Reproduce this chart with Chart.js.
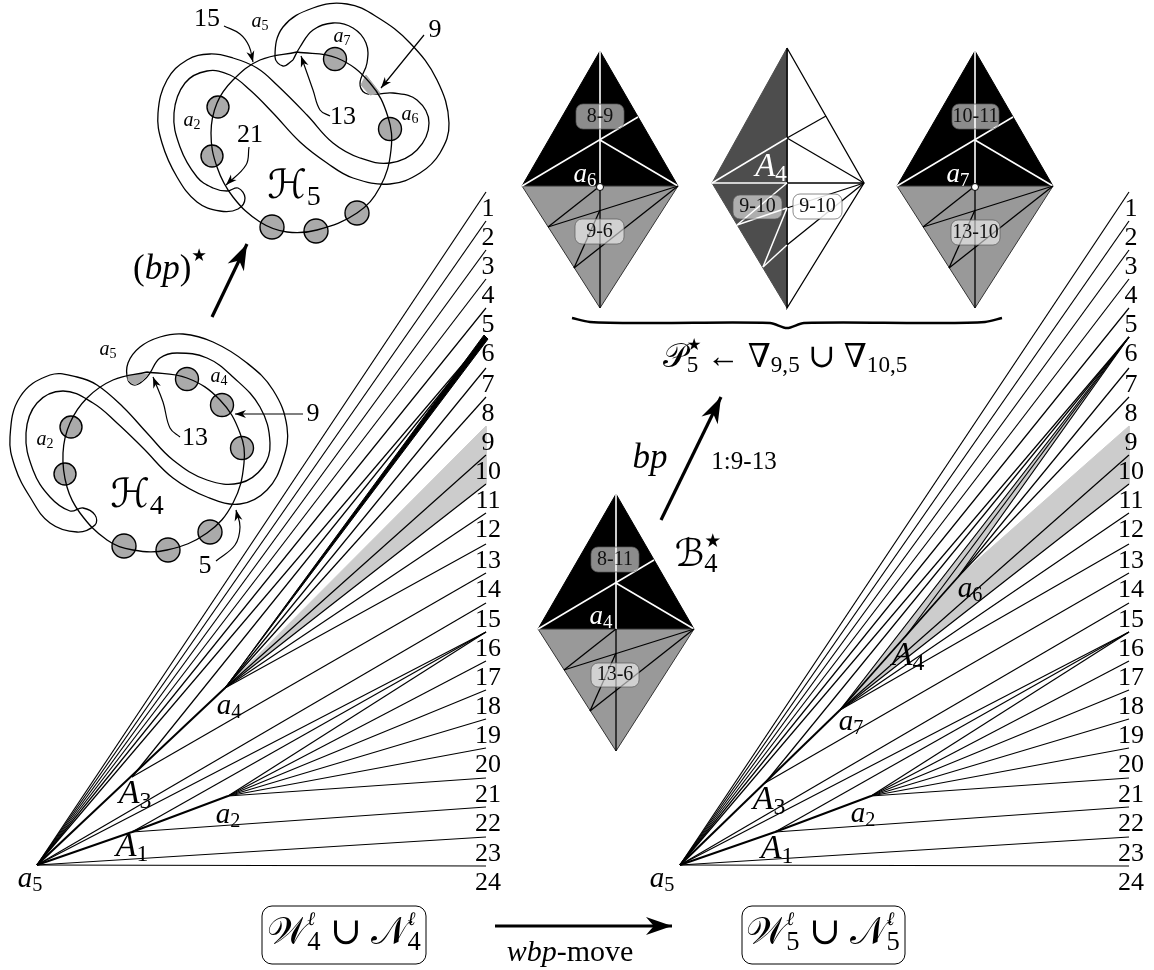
<!DOCTYPE html>
<html>
<head>
<meta charset="utf-8">
<style>
    html, body { margin: 0; padding: 0; background: #fff; }
    #wrap { width: 1154px; height: 970px; }
</style>
<script src="https://cdn.jsdelivr.net/npm/chart.js@4/dist/chart.umd.min.js"></script>
</head>
<body>
<div id="wrap"><canvas id="figure" width="1154" height="970"></canvas></div>
<script>
// Fan end heights and their tick labels
const fanLabels = ['1','2','3','4','5','6','7','8','9','10','11','12','13','14','15','16','17','18','19','20','21','22','23','24'];
const fanEndY = [192,221,250,279,308,337,368,397,426,455,484,513,544,573,603,632,661,690,719,748,778,807,837,866];

// Left fan
const leftEndX = 486;
const leftA5 = [37, 865], leftA3 = [132, 777], leftA1 = [132, 832];
const leftA4 = [225, 688], leftA2 = [228, 796];
const leftFromA5 = [1,2,3,4,5,6,15,16,23,24];
const leftFromA3 = [6,14];
const leftFromA4 = [7,8,10,11,12,13];
const leftFromA1 = [16,22];
const leftFromA2 = [16,17,18,19,20,21];
const leftThickTip = [[488,339],[484,335]];

// Right fan
const rightEndX = 1129;
const rightA5 = [680, 865], rightA3 = [765, 783], rightA1 = [775, 832];
const rightA7 = [840, 710], rightA4 = [905, 637], rightA6 = [958, 577], rightA2 = [871, 796];
const rightFromA5 = [1,2,3,4,5,6,15,16,23,24];
const rightFromA3 = [6,14];
const rightFromA7 = [6,10,11,12,13];
const rightFromA4 = [6];
const rightFromA6 = [6,7,8];
const rightFromA1 = [16,22];
const rightFromA2 = [16,17,18,19,20,21];

// Diamonds, offsets from the centre point
const diamondCenters = [[600, 186], [975, 186], [616, 629]];
const diamondTop = [0, -135], diamondBottom = [0, 122], diamondLeft = [-78, 0], diamondRight = [78, 0];
const diamondEdge = [38, -69], diamondUpper = [0, -46];
const diamondLowA = [-52, 41], diamondLowB = [-26, 82], diamondLowC = [0, 24];
const dotPoints = [[600, 187], [975, 187]];

// Middle diamond
const midTop = [787, 48], midBottom = [787, 308], midLeft = [712, 183], midRight = [864, 183];
const midEdge = [826, 116], midUpper = [787, 138], midCentre = [787, 183];
const midLowA = [737, 225], midLowB = [763, 267], midLowC = [787, 208];

// Chips on the diamonds: label, left, top, right, bottom
const chipLabels = ['8-9','9-6','9-10','9-10','10-11','13-10','8-11','13-6'];
const chipBoxes = [[576,104,624,129],[575,219,624,244],[733,195,782,219],[793,194,842,219],
                   [952,104,999,129],[951,220,1000,245],[591,547,639,572],[591,663,639,687]];

// Curves of H5
const h5Loop = [[293,60],[283,66],[275,57],[283,27],[313,8],[347,4],[377,17],[410,43],[437,80],[449,123],[440,153],[420,173],[390,184],[353,178],[327,163],[300,142],[273,113],[250,90],[230,75],[207,71],[185,83],[174,113],[180,147],[197,177],[213,188],[227,191],[238,188],[245,198],[238,209],[220,211],[197,202],[177,177],[162,143],[158,113],[167,80],[187,60],[210,54],[233,58],[257,68],[277,85],[307,115],[333,143],[360,158],[390,163],[417,150],[429,123],[417,100],[393,93],[377,94],[365,93],[360,83],[367,63],[366,43],[353,28],[333,23],[313,30],[300,47],[293,60]];
const h5Circle = [[297,52],[337,58],[370,83],[388,117],[391,150],[380,187],[357,213],[317,230],[287,232],[260,222],[233,197],[217,167],[211,133],[217,103],[233,80],[260,60],[297,52]];
const h5Ovals = [[218,107,11],[212,156,11],[335,59,11.5],[390,129,11.5],[357,213,12],[316,231,12],[272,227,12]];
const h5Crescent = [[366,75],[380,93],[370,95],[361,85],[366,75]];

// Curves of H4
const h4Loop = [[150,373],[145,379],[135,385],[128,380],[128,363],[140,347],[160,337],[183,334],[213,342],[247,363],[273,390],[287,427],[283,460],[267,490],[240,504],[207,497],[173,478],[143,448],[117,423],[93,403],[63,391],[37,403],[26,433],[33,470],[50,497],[70,511],[83,508],[95,515],[95,525],[77,532],[50,523],[30,497],[15,467],[10,437],[20,397],[50,375],[77,377],[97,385],[123,407],[147,433],[173,460],[207,480],[240,483],[263,467],[270,443],[260,407],[233,377],[207,358],[177,353],[160,358],[150,373]];
const h4Circle = [[147,372],[187,378],[220,400],[240,433],[244,463],[233,503],[207,533],[167,550],[133,550],[107,540],[80,513],[67,487],[63,453],[70,423],[87,398],[113,380],[147,372]];
const h4Ovals = [[71,427,11],[65,474,11],[187,379,11.5],[222,405,11.5],[242,448,11.5],[210,532,12],[168,550,12],[124,546,12]];
const h4Crescent = [[128,375],[148,374],[143,380],[135,385],[128,380],[128,375]];

// Thin arrows
const arrow15 = [[224,26],[240,34],[249,46],[253,62]];
const arrow21 = [[249,147],[246,165],[226,185]];
const arrow13a = [[330,116],[320,110],[313,90],[301,56]];
const arrow9a = [[424,35],[381,88]];
const arrow9b = [[303,414],[235,414]];
const arrow13b = [[180,437],[170,428],[163,402],[153,377]];
const arrow5 = [[216,561],[235,545],[240,527],[236,510]];

// Thick arrows
const arrowBpStar = [[212,317],[247,244]];
const arrowBp = [[661,520],[721,397]];
const arrowMove = [[495,926],[672,926]];

// Brace under the diamonds
const bracePoints = [[572,318],[590,322],[650,323],[770,323],[787,328],[804,323],[930,323],[985,322],[1002,318]];

// Boxes round the two formulas: left, top, right, bottom
const formulaBoxes = [[262,906,426,964],[742,906,905,964]];

// Text: parts are [text, kind], kinds r roman, i italic, s script, sub, sup, star
const textItems = [
    { p: [['15','r']], x: 207, y: 19, size: 26 },
    { p: [['a','i'],['5','sub']], x: 260, y: 22, size: 20 },
    { p: [['a','i'],['7','sub']], x: 342, y: 37, size: 20 },
    { p: [['a','i'],['2','sub']], x: 192, y: 121, size: 20 },
    { p: [['a','i'],['6','sub']], x: 410, y: 115, size: 20 },
    { p: [['21','r']], x: 250, y: 135, size: 26 },
    { p: [['13','r']], x: 343, y: 117, size: 26 },
    { p: [['9','r']], x: 435, y: 30, size: 26 },
    { p: [['\u210B','s'],['5','sub']], x: 294, y: 188, size: 40 },
    { p: [['(','r'],['bp','i'],[')','r'],['\u2605','star']], x: 170, y: 270, size: 35 },
    { p: [['a','i'],['5','sub']], x: 108, y: 350, size: 20 },
    { p: [['a','i'],['4','sub']], x: 219, y: 377, size: 20 },
    { p: [['a','i'],['2','sub']], x: 45, y: 440, size: 20 },
    { p: [['9','r']], x: 313, y: 414, size: 26 },
    { p: [['13','r']], x: 195, y: 438, size: 26 },
    { p: [['5','r']], x: 205, y: 566, size: 26 },
    { p: [['\u210B','s'],['4','sub']], x: 137, y: 497, size: 40 },
    { p: [['a','i'],['6','sub']], x: 585, y: 175, size: 27, color: '#fff' },
    { p: [['a','i'],['7','sub']], x: 958, y: 175, size: 27, color: '#fff' },
    { p: [['A','i'],['4','sub']], x: 771, y: 167, size: 33, color: '#fff' },
    { p: [['a','i'],['4','sub']], x: 601, y: 617, size: 27, color: '#fff' },
    { p: [['\uD835\uDCAB','s'],['\u2605','star'],['5','subx'],[' \u2190 ','r'],['\u2207','r'],['9,5','sub'],[' \u222A ','r'],['\u2207','r'],['10,5','sub']], x: 785, y: 358, size: 33 },
    { p: [['bp','i']], x: 650, y: 459, size: 35 },
    { p: [['1:9-13','r']], x: 744, y: 462, size: 25 },
    { p: [['\u212C','s'],['\u2605','star'],['4','subx']], x: 696, y: 556, size: 38 },
    { p: [['a','i'],['5','sub']], x: 30, y: 879, size: 29 },
    { p: [['a','i'],['4','sub']], x: 229, y: 706, size: 29 },
    { p: [['A','i'],['3','sub']], x: 135, y: 794, size: 34 },
    { p: [['a','i'],['2','sub']], x: 228, y: 815, size: 29 },
    { p: [['A','i'],['1','sub']], x: 132, y: 847, size: 34 },
    { p: [['a','i'],['5','sub']], x: 662, y: 879, size: 29 },
    { p: [['a','i'],['7','sub']], x: 851, y: 722, size: 29 },
    { p: [['A','i'],['3','sub']], x: 769, y: 800, size: 34 },
    { p: [['a','i'],['2','sub']], x: 863, y: 814, size: 29 },
    { p: [['A','i'],['1','sub']], x: 777, y: 849, size: 34 },
    { p: [['A','i'],['4','sub']], x: 908, y: 656, size: 34 },
    { p: [['a','i'],['6','sub']], x: 970, y: 589, size: 29 },
    { p: [['\uD835\uDCB2','s'],['\u2113','supi'],['4','subx'],[' \u222A ','r'],['\uD835\uDCA9','s'],['\u2113','supi'],['4','subx']], x: 344, y: 934, size: 38 },
    { p: [['\uD835\uDCB2','s'],['\u2113','supi'],['5','subx'],[' \u222A ','r'],['\uD835\uDCA9','s'],['\u2113','supi'],['5','subx']], x: 823, y: 934, size: 38 },
    { p: [['wbp','i'],['-move','r']], x: 570, y: 953, size: 30 }
];

const xy = ([x, y]) => ({ x, y });
const datasets = [];

// Add one drawn path in painter's order
function addPath(points, style) {
    datasets.push({
        data: points.map(xy),
        borderColor: '#000',
        borderWidth: 1,
        pointRadius: 0,
        tension: 0,
        fill: false,
        ...style
    });
}

function addShape(points, color, lineColor) {
    addPath(points, { fill: 'shape', backgroundColor: color, borderColor: lineColor || color });
}

function addRays(from, ends, endX) {
    ends.forEach(n => addPath([from, [endX, fanEndY[n - 1]]], { borderWidth: 1.2 }));
}

function offset(center, d) {
    return [center[0] + d[0], center[1] + d[1]];
}

// Black and grey diamond
function addDiamond(c) {
    const at = d => offset(c, d);
    addShape([at(diamondLeft), at(diamondTop), at(diamondRight), at(diamondLeft)], '#000');
    addShape([at(diamondLeft), at(diamondBottom), at(diamondRight), at(diamondLeft)], '#999', '#333');
    const white = { borderColor: '#fff', borderWidth: 1.6 };
    addPath([at(diamondTop), c], white);
    addPath([at(diamondLeft), at(diamondEdge)], white);
    addPath([at(diamondUpper), at(diamondRight)], white);
    const black = { borderWidth: 1.3 };
    addPath([c, at(diamondBottom)], black);
    addPath([c, at(diamondLowA)], black);
    addPath([at(diamondLowA), at(diamondRight)], black);
    addPath([at(diamondRight), at(diamondLowB)], black);
    addPath([at(diamondLowB), at(diamondLowC)], black);
}

function addMiddleDiamond() {
    addShape([midTop, midBottom, midLeft, midTop], '#4d4d4d');
    addPath([midTop, midRight, midBottom, midTop], { borderWidth: 1.3 });
    const white = { borderColor: '#fff', borderWidth: 1.5 };
    const black = { borderWidth: 1.3 };
    addPath([midEdge, midUpper], black);
    addPath([midUpper, midRight], black);
    addPath([midCentre, midRight], black);
    addPath([midUpper, midLeft], white);
    addPath([midCentre, midLeft], white);
    addPath([midCentre, midLowA], white);
    addPath([midLowA, midLowC], white);
    addPath([midLowC, midRight], black);
    addPath([midLowB, midLowC], white);
    addPath([midLowB, [787, 245]], white);
    addPath([[787, 245], midRight], black);
}

function addBlob(loop, circle, ovals, crescent) {
    addPath(loop, { tension: 0.4, borderWidth: 1.3 });
    addShape(crescent, '#aaa');
    datasets.push({
        data: ovals.map(xy),
        showLine: false,
        pointRadius: ovals.map(o => o[2]),
        pointBackgroundColor: '#aaa',
        pointBorderColor: '#000',
        pointBorderWidth: 1.4
    });
    addPath(circle, { tension: 0.4, borderWidth: 1.3 });
}

function buildDatasets() {
    // Grey bands first so the rays stay on top
    addShape([leftA4, [leftEndX, fanEndY[8]], [leftEndX, fanEndY[10]], leftA4], '#ccc');
    addShape([rightA7, rightA6, [rightEndX, fanEndY[8]], [rightEndX, fanEndY[10]], rightA7], '#ccc');
    addShape([rightA7, [rightEndX, fanEndY[5]], rightA6, rightA7], '#ccc');

    addRays(leftA5, leftFromA5, leftEndX);
    addRays(leftA3, leftFromA3, leftEndX);
    addRays(leftA4, leftFromA4, leftEndX);
    addRays(leftA1, leftFromA1, leftEndX);
    addRays(leftA2, leftFromA2, leftEndX);
    addPath([leftA5, leftA4], { borderWidth: 2 });
    addShape([leftA4, leftThickTip[0], leftThickTip[1], leftA4], '#000');
    addPath([leftA5, leftA1, leftA2], { borderWidth: 2 });

    addRays(rightA5, rightFromA5, rightEndX);
    addRays(rightA3, rightFromA3, rightEndX);
    addRays(rightA7, rightFromA7, rightEndX);
    addRays(rightA4, rightFromA4, rightEndX);
    addRays(rightA6, rightFromA6, rightEndX);
    addRays(rightA1, rightFromA1, rightEndX);
    addRays(rightA2, rightFromA2, rightEndX);
    addPath([rightA5, rightA7], { borderWidth: 2 });
    addPath([rightA7, rightA6], { borderWidth: 1.8 });
    addPath([rightA5, rightA1, rightA2], { borderWidth: 2 });

    diamondCenters.forEach(addDiamond);
    addMiddleDiamond();

    datasets.push({
        data: dotPoints.map(xy),
        showLine: false,
        pointRadius: 3.5,
        pointBackgroundColor: '#fff',
        pointBorderColor: '#000',
        pointBorderWidth: 1
    });

    addBlob(h5Loop, h5Circle, h5Ovals, h5Crescent);
    addBlob(h4Loop, h4Circle, h4Ovals, h4Crescent);

    [arrow15, arrow21, arrow13a, arrow9a, arrow9b, arrow13b, arrow5].forEach(a => {
        addPath(a, { tension: 0.4, borderWidth: 1.2 });
    });
    [arrowBpStar, arrowBp, arrowMove].forEach(a => addPath(a, { borderWidth: 3.2 }));
    addPath(bracePoints, { tension: 0.3, borderWidth: 2.4 });

    // First dataset has to paint first
    datasets.forEach((d, i) => { d.order = datasets.length - i; });
}

// Stealth arrow head at the end of a path
function drawHead(chart, path, length, width) {
    const { x: sx, y: sy } = chart.scales;
    const ctx = chart.ctx;
    const a = path[path.length - 2], b = path[path.length - 1];
    const tx = sx.getPixelForValue(b[0]), ty = sy.getPixelForValue(b[1]);
    const ang = Math.atan2(ty - sy.getPixelForValue(a[1]), tx - sx.getPixelForValue(a[0]));
    ctx.save();
    ctx.translate(tx, ty);
    ctx.rotate(ang);
    ctx.beginPath();
    ctx.moveTo(0, 0);
    ctx.lineTo(-length, -width);
    ctx.lineTo(-length * 0.7, 0);
    ctx.lineTo(-length, width);
    ctx.closePath();
    ctx.fillStyle = '#000';
    ctx.fill();
    ctx.restore();
}

function fontFor(kind, size) {
    const serif = '"Liberation Serif", "DejaVu Serif", "DejaVu Sans", serif';
    if (kind === 'i' || kind === 'supi') return `italic ${size}px ${serif}`;
    if (kind === 's') return `${size}px "DejaVu Serif", "DejaVu Sans", serif`;
    return `${size}px ${serif}`;
}

// Lay out one label from its parts and centre it on x, y
function drawText(chart, item) {
    const ctx = chart.ctx;
    const base = item.size;
    const stacked = item.p.some(q => q[1] === 'subx');
    const runs = item.p.map(([text, kind]) => {
        let size = base, dy = 0;
        if (kind === 'sub' || kind === 'subx') { size = base * 0.7; dy = base * 0.24; }
        if (kind === 'supi' || kind === 'star') { size = base * 0.5; dy = -base * 0.38; }
        ctx.font = fontFor(kind, size);
        const advance = !(stacked && (kind === 'star' || kind === 'supi'));
        return { text, kind, size, dy, advance, w: ctx.measureText(text).width };
    });
    const total = runs.reduce((sum, r) => sum + (r.advance ? r.w : 0), 0);
    let x = chart.scales.x.getPixelForValue(item.x) - total / 2;
    const y = chart.scales.y.getPixelForValue(item.y);
    ctx.fillStyle = item.color || '#000';
    ctx.textBaseline = 'middle';
    ctx.textAlign = 'left';
    runs.forEach(r => {
        ctx.font = fontFor(r.kind, r.size);
        ctx.fillText(r.text, x, y + r.dy);
        if (r.advance) x += r.w;
    });
}

const annotations = {
    id: 'annotations',
    afterDatasetsDraw(chart) {
        const ctx = chart.ctx;
        const { x: sx, y: sy } = chart.scales;
        const px = v => sx.getPixelForValue(v), py = v => sy.getPixelForValue(v);

        // Arrow heads
        [arrow15, arrow21, arrow13a, arrow9a, arrow9b, arrow13b, arrow5].forEach(a => drawHead(chart, a, 11, 4));
        [arrowBpStar, arrowBp, arrowMove].forEach(a => drawHead(chart, a, 26, 9));

        // Chips on the diamonds
        chipBoxes.forEach((b, i) => {
            const light = i === 3;
            ctx.beginPath();
            ctx.roundRect(px(b[0]), py(b[1]), px(b[2]) - px(b[0]), py(b[3]) - py(b[1]), 7);
            ctx.fillStyle = light ? 'rgba(255,255,255,0.85)' : 'rgba(255,255,255,0.55)';
            ctx.fill();
            ctx.strokeStyle = 'rgba(90,90,90,0.7)';
            ctx.lineWidth = 1;
            ctx.stroke();
            ctx.fillStyle = '#111';
            ctx.font = '20px "Liberation Serif", serif';
            ctx.textAlign = 'center';
            ctx.textBaseline = 'middle';
            ctx.fillText(chipLabels[i], px((b[0] + b[2]) / 2), py((b[1] + b[3]) / 2));
        });

        // Formula boxes
        formulaBoxes.forEach(b => {
            ctx.beginPath();
            ctx.roundRect(px(b[0]), py(b[1]), px(b[2]) - px(b[0]), py(b[3]) - py(b[1]), 10);
            ctx.strokeStyle = '#000';
            ctx.lineWidth = 1;
            ctx.stroke();
        });

        // Tick labels of the two fans
        ctx.fillStyle = '#000';
        ctx.font = '26px "Liberation Serif", serif';
        ctx.textAlign = 'center';
        ctx.textBaseline = 'middle';
        fanLabels.forEach((label, i) => {
            ctx.fillText(label, px(leftEndX + 2), py(fanEndY[i] + 17));
            ctx.fillText(label, px(rightEndX + 2), py(fanEndY[i] + 17));
        });

        textItems.forEach(item => drawText(chart, item));
    }
};

// Initialize chart
document.addEventListener('DOMContentLoaded', () => {
    buildDatasets();
    new Chart(document.getElementById('figure').getContext('2d'), {
        type: 'line',
        data: { datasets },
        options: {
            responsive: false,
            animation: false,
            clip: false,
            layout: { padding: 0, autoPadding: false },
            plugins: { legend: { display: false }, tooltip: { enabled: false } },
            scales: {
                x: { type: 'linear', min: 0, max: 1154, display: false },
                y: { type: 'linear', min: 0, max: 970, reverse: true, display: false }
            }
        },
        plugins: [annotations]
    });
});
</script>
</body>
</html>
